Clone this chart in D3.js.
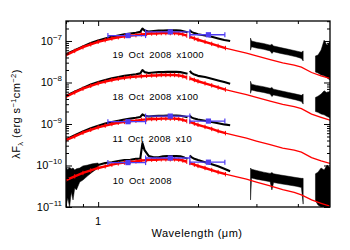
<!DOCTYPE html>
<html>
<head>
<meta charset="utf-8">
<script src="https://cdn.jsdelivr.net/npm/d3@7"></script>
<style>
  html, body { margin: 0; padding: 0; background: #fff; }
  svg { display: block; font-family: "Liberation Sans", Arial, sans-serif; }
</style>
</head>
<body>
<svg id="chart" width="350" height="250"></svg>
<script>
// wavelength grids (micron)
const wlRedA  = [0.80,0.85,0.90,0.95,1.00,1.05,1.10,1.15,1.20,1.25,1.30,1.35,1.40,1.45,1.50,1.55,1.60,1.65,1.70,1.75,1.80,1.85];
const wlRedB  = [1.89,1.95,2.00,2.10,2.20,2.30,2.42];
const wlTail  = [2.42,2.60,2.80,3.00,3.30,3.60,3.90,4.10,4.40,4.70,5.00];
const wlBlkA  = [0.80,0.85,0.90,0.95,1.00,1.05,1.10,1.15,1.20,1.25,1.30,1.34,1.36,1.38,1.42,1.47,1.52,1.57,1.62,1.67,1.72,1.77,1.82,1.86];
const wlBlkB  = [1.89,1.91,1.95,2.00,2.10,2.20,2.30,2.40,2.50];
const wlBandC = [2.88,2.90,3.00,3.15,3.30,3.34,3.38,3.55,3.75,3.95,4.10,4.15];
const wlBandD = [4.52,4.60,4.70,4.80,4.90,5.00];
const wlNoise = [0.80,0.81,0.82,0.83,0.84,0.85,0.86,0.88,0.90,0.93,0.96,1.00];
const wlPhot  = [1.23,1.65,2.15];
const photLo  = [1.07,1.39,1.89];
const photHi  = [1.39,1.89,2.41];

// log10(lambda F_lambda) (scaled values as plotted)
const red19A = [-7.34,-7.24,-7.15,-7.08,-7.02,-6.98,-6.94,-6.91,-6.89,-6.87,-6.86,-6.84,-6.83,-6.82,-6.82,-6.81,-6.81,-6.81,-6.81,-6.82,-6.84,-6.87];
const red18A = [-8.34,-8.24,-8.15,-8.08,-8.02,-7.98,-7.94,-7.91,-7.89,-7.87,-7.86,-7.85,-7.84,-7.83,-7.83,-7.82,-7.82,-7.82,-7.82,-7.83,-7.85,-7.88];
const red11A = [-9.39,-9.30,-9.21,-9.14,-9.08,-9.04,-9.00,-8.97,-8.95,-8.93,-8.92,-8.90,-8.89,-8.88,-8.88,-8.87,-8.87,-8.87,-8.87,-8.88,-8.90,-8.93];
const red10A = [-10.35,-10.26,-10.18,-10.12,-10.06,-10.02,-9.98,-9.95,-9.93,-9.91,-9.90,-9.88,-9.87,-9.86,-9.86,-9.85,-9.85,-9.85,-9.85,-9.86,-9.88,-9.91];

const red19B = [-6.90,-6.94,-6.97,-7.02,-7.07,-7.12,-7.17];
const red18B = [-7.90,-7.94,-7.97,-8.02,-8.07,-8.12,-8.17];
const red11B = [-8.95,-8.99,-9.02,-9.07,-9.12,-9.17,-9.22];
const red10B = [-9.94,-9.98,-10.01,-10.06,-10.11,-10.16,-10.21];

const tail19 = [-7.17,-7.23,-7.29,-7.36,-7.45,-7.53,-7.58,-7.63,-7.76,-7.84,-7.90];
const tail18 = [-8.17,-8.23,-8.29,-8.36,-8.45,-8.53,-8.58,-8.63,-8.76,-8.84,-8.91];
const tail11 = [-9.22,-9.28,-9.34,-9.41,-9.50,-9.58,-9.63,-9.68,-9.81,-9.89,-9.95];
const tail10 = [-10.21,-10.27,-10.33,-10.40,-10.49,-10.58,-10.65,-10.71,-10.83,-10.91,-10.98];

const blk19A = [-7.32,-7.22,-7.13,-7.05,-6.99,-6.94,-6.90,-6.87,-6.84,-6.82,-6.80,-6.78,-6.70,-6.75,-6.77,-6.76,-6.75,-6.75,-6.745,-6.745,-6.745,-6.75,-6.77,-6.79];
const blk18A = [-8.32,-8.22,-8.13,-8.05,-7.99,-7.94,-7.90,-7.87,-7.84,-7.82,-7.80,-7.78,-7.70,-7.75,-7.77,-7.76,-7.75,-7.75,-7.745,-7.745,-7.745,-7.75,-7.77,-7.79];
const blk11A = [-9.37,-9.27,-9.18,-9.10,-9.04,-8.99,-8.95,-8.92,-8.89,-8.87,-8.85,-8.83,-8.77,-8.80,-8.82,-8.81,-8.80,-8.80,-8.795,-8.795,-8.795,-8.80,-8.82,-8.84];
const blk10A = [-10.35,-10.21,-10.12,-10.06,-9.99,-9.94,-9.92,-9.89,-9.87,-9.86,-9.84,-9.83,-9.46,-9.63,-9.77,-9.80,-9.80,-9.78,-9.77,-9.77,-9.77,-9.78,-9.81,-9.84];

const blk19B = [-6.74,-6.78,-6.81,-6.84,-6.87,-6.90,-6.94,-6.975,-7.00];
const blk18B = [-7.72,-7.77,-7.81,-7.84,-7.87,-7.91,-7.95,-7.99,-8.03];
const blk11B = [-8.80,-8.84,-8.87,-8.89,-8.92,-8.95,-8.98,-9.01,-9.03];
const blk10B = [-9.76,-9.80,-9.84,-9.87,-9.92,-9.97,-10.02,-10.08,-10.14];

const c19Hi = [-6.93,-7.00,-7.03,-7.06,-7.10,-7.08,-7.12,-7.16,-7.20,-7.24,-7.27,-7.24];
const c19Lo = [-7.22,-7.14,-7.17,-7.20,-7.24,-7.30,-7.26,-7.30,-7.34,-7.38,-7.42,-7.48];
const c18Hi = [-7.97,-8.04,-8.07,-8.10,-8.14,-8.12,-8.16,-8.20,-8.24,-8.28,-8.31,-8.28];
const c18Lo = [-8.26,-8.18,-8.21,-8.24,-8.28,-8.34,-8.30,-8.34,-8.38,-8.42,-8.46,-8.52];
const c10Hi = [-10.06,-10.09,-10.12,-10.16,-10.19,-10.17,-10.20,-10.23,-10.26,-10.29,-10.31,-10.31];
const c10Lo = [-10.83,-10.30,-10.33,-10.36,-10.39,-10.59,-10.41,-10.44,-10.47,-10.50,-10.53,-10.93];

const d19Hi = [-7.36,-7.34,-7.22,-6.98,-7.10,-7.02];
const d19Lo = [-7.75,-7.77,-7.82,-7.84,-7.89,-7.94];
const d18Hi = [-8.36,-8.33,-8.28,-8.20,-8.25,-8.22];
const d18Lo = [-8.70,-8.72,-8.76,-8.78,-8.82,-8.85];
const d10Hi = [-10.20,-10.16,-10.06,-10.11,-9.99,-10.06];
const d10Lo = [-10.85,-10.95,-11.0,-11.0,-11.0,-11.0];

const noise10Hi = [-10.06,-10.11,-10.04,-10.08,-10.06,-10.11,-10.08,-10.06,-10.01,-9.99,-9.96,-9.94];
const noise10Lo = [-11.0,-10.78,-11.0,-10.64,-10.83,-10.54,-10.59,-10.40,-10.35,-10.25,-10.16,-10.06];

const phot19 = [-6.87,-6.78,-6.85];
const phot11 = [-8.945,-8.81,-8.93];
const phot10 = [-9.93,-9.82,-9.92];

const epochLabels = ["19 Oct 2008 x1000", "18 Oct 2008 x100", "11 Oct 2008 x10", "10 Oct 2008"];
const labelPos = [[1.105,-7.40],[1.105,-8.434],[1.105,-9.43],[1.107,-10.434]];

const yMajors = [-11,-10,-9,-8,-7];

// ---- setup
const svg = d3.select("#chart");
const L = 66, R = 330, T = 21, B = 207;
const x = d3.scaleLog().domain([0.8, 5]).range([L, R]);
const y = d3.scaleLog().domain([1e-11, 3.03e-7]).range([B, T]);
const F = v => Math.pow(10, v);

svg.append("defs").append("clipPath").attr("id", "plotclip")
  .append("rect").attr("x", L).attr("y", T).attr("width", R - L).attr("height", B - T);

const plot = svg.append("g").attr("clip-path", "url(#plotclip)");

const line = d3.line().x(d => x(d[0])).y(d => y(F(d[1])));
const band = d3.area().x(d => x(d[0])).y0(d => y(F(d[1]))).y1(d => y(F(d[2])));

const epochs = [
  { redA: red19A, redB: red19B, tail: tail19, blkA: blk19A, blkB: blk19B, c: [c19Lo, c19Hi], d: [d19Lo, d19Hi], phot: phot19 },
  { redA: red18A, redB: red18B, tail: tail18, blkA: blk18A, blkB: blk18B, c: [c18Lo, c18Hi], d: [d18Lo, d18Hi], phot: null },
  { redA: red11A, redB: red11B, tail: tail11, blkA: blk11A, blkB: blk11B, c: null, d: null, phot: phot11 },
  { redA: red10A, redB: red10B, tail: tail10, blkA: blk10A, blkB: blk10B, c: [c10Lo, c10Hi], d: [d10Lo, d10Hi], phot: phot10, noise: [noise10Lo, noise10Hi] }
];

const blue = "#4f3cf2";

// black spectra first
epochs.forEach(e => {
  const g = plot.append("g");
  const bands = [];
  if (e.noise) bands.push(d3.zip(wlNoise, e.noise[0], e.noise[1]));
  if (e.c) bands.push(d3.zip(wlBandC, e.c[0], e.c[1]));
  if (e.d) bands.push(d3.zip(wlBandD, e.d[0], e.d[1]));
  bands.forEach(b => {
    g.append("path").attr("d", band(b))
      .attr("fill", "#000").attr("stroke", "#000").attr("stroke-width", 0.5);
  });
  [d3.zip(wlBlkA, e.blkA), d3.zip(wlBlkB, e.blkB)].forEach(s => {
    g.append("path").attr("d", line(s))
      .attr("fill", "none").attr("stroke", "#000").attr("stroke-width", 2.1)
      .attr("stroke-linejoin", "round");
  });
});

// red model / dereddened curves
epochs.forEach(e => {
  const g = plot.append("g");
  [d3.zip(wlRedA, e.redA), d3.zip(wlRedB, e.redB)].forEach(s => {
    g.append("path").attr("d", line(s))
      .attr("fill", "none").attr("stroke", "#ff0000").attr("stroke-width", 2.4);
    g.selectAll(null).data(s).join("line")
      .attr("x1", d => x(d[0])).attr("x2", d => x(d[0]))
      .attr("y1", d => y(F(d[1])) - 2.2).attr("y2", d => y(F(d[1])) + 2.2)
      .attr("stroke", "#ff0000").attr("stroke-width", 1);
  });
  g.append("path").attr("d", line(d3.zip(wlTail, e.tail)))
    .attr("fill", "none").attr("stroke", "#ff0000").attr("stroke-width", 1.3);
});

// photometry with band widths
epochs.forEach(e => {
  if (!e.phot) return;
  const pts = wlPhot.map((w, i) => ({ w, lo: photLo[i], hi: photHi[i], v: e.phot[i] }));
  const g = plot.append("g");
  g.selectAll(".bar").data(pts).join("line")
    .attr("x1", d => x(d.lo)).attr("x2", d => x(d.hi))
    .attr("y1", d => y(F(d.v))).attr("y2", d => y(F(d.v)))
    .attr("stroke", blue).attr("stroke-width", 1.3);
  g.selectAll(".capl").data(pts).join("line")
    .attr("x1", d => x(d.lo)).attr("x2", d => x(d.lo))
    .attr("y1", d => y(F(d.v)) - 2.5).attr("y2", d => y(F(d.v)) + 2.5)
    .attr("stroke", blue).attr("stroke-width", 1.2);
  g.selectAll(".capr").data(pts).join("line")
    .attr("x1", d => x(d.hi)).attr("x2", d => x(d.hi))
    .attr("y1", d => y(F(d.v)) - 2.5).attr("y2", d => y(F(d.v)) + 2.5)
    .attr("stroke", blue).attr("stroke-width", 1.2);
  g.selectAll("rect").data(pts).join("rect")
    .attr("x", d => x(d.w) - 2.6).attr("y", d => y(F(d.v)) - 2.6)
    .attr("width", 5.2).attr("height", 5.2)
    .attr("fill", blue);
});

// epoch labels
svg.append("g").selectAll("text").data(epochLabels).join("text")
  .attr("x", (d, i) => x(labelPos[i][0]))
  .attr("y", (d, i) => y(F(labelPos[i][1])))
  .attr("font-size", 9.5).attr("letter-spacing", 0.3).attr("word-spacing", 2)
  .attr("fill", "#000")
  .text(d => d);

// ---- axes (IDL style: inward ticks on all four sides)
const yMinor = [];
yMajors.forEach(n => { for (let k = 2; k <= 9; k++) { if (k * F(n) <= 3.03e-7) yMinor.push(k * F(n)); } });
const yMaj = yMajors.map(F);
const xMajor = [1];
const xMinor = [0.8, 0.9, 2, 3, 4];

function ticks(gen, vals, size, tx) {
  const g = svg.append("g").attr("transform", tx)
    .call(gen.tickValues(vals).tickSize(size).tickFormat(""));
  g.select(".domain").remove();
  g.selectAll(".tick line").attr("stroke", "#000").attr("stroke-width", 1);
}
ticks(d3.axisLeft(y), yMaj, -6, `translate(${L},0)`);
ticks(d3.axisLeft(y), yMinor, -3, `translate(${L},0)`);
ticks(d3.axisRight(y), yMaj, -6, `translate(${R},0)`);
ticks(d3.axisRight(y), yMinor, -3, `translate(${R},0)`);
ticks(d3.axisBottom(x), xMajor, -5, `translate(0,${B})`);
ticks(d3.axisBottom(x), xMinor, -3, `translate(0,${B})`);
ticks(d3.axisTop(x), xMajor, -5, `translate(0,${T})`);
ticks(d3.axisTop(x), xMinor, -3, `translate(0,${T})`);

svg.append("rect").attr("x", L).attr("y", T).attr("width", R - L).attr("height", B - T)
  .attr("fill", "none").attr("stroke", "#000").attr("stroke-width", 1.3);

// y tick labels 10^n
const yl = svg.append("g").selectAll("text").data(yMajors).join("text")
  .attr("x", 62).attr("y", d => y(F(d)) + 4)
  .attr("text-anchor", "end").attr("font-size", 11).attr("fill", "#000");
yl.append("tspan").text("10");
yl.append("tspan").attr("dy", -5).attr("font-size", 8).text(d => "\u2212" + (-d));

// x tick label
svg.append("g").selectAll("text").data(xMajor).join("text")
  .attr("x", d => x(d)).attr("y", 225)
  .attr("text-anchor", "middle").attr("font-size", 11).text(d => d);

// axis titles
svg.append("text").attr("x", 197).attr("y", 237)
  .attr("text-anchor", "middle").attr("font-size", 11).attr("letter-spacing", 0.5)
  .text("Wavelength (\u03bcm)");

const yt = svg.append("text")
  .attr("transform", `translate(20,${(T + B) / 2}) rotate(-90)`)
  .attr("text-anchor", "middle").attr("font-size", 11).attr("letter-spacing", 0.4);
yt.append("tspan").text("\u03bbF");
yt.append("tspan").attr("dy", 2.5).attr("font-size", 7.5).text("\u03bb");
yt.append("tspan").attr("dy", -2.5).text(" (erg s");
yt.append("tspan").attr("dy", -4).attr("font-size", 7.5).text("\u22121");
yt.append("tspan").attr("dy", 4).text("cm");
yt.append("tspan").attr("dy", -4).attr("font-size", 7.5).text("\u22122");
yt.append("tspan").attr("dy", 4).text(")");
</script>
</body>
</html>
